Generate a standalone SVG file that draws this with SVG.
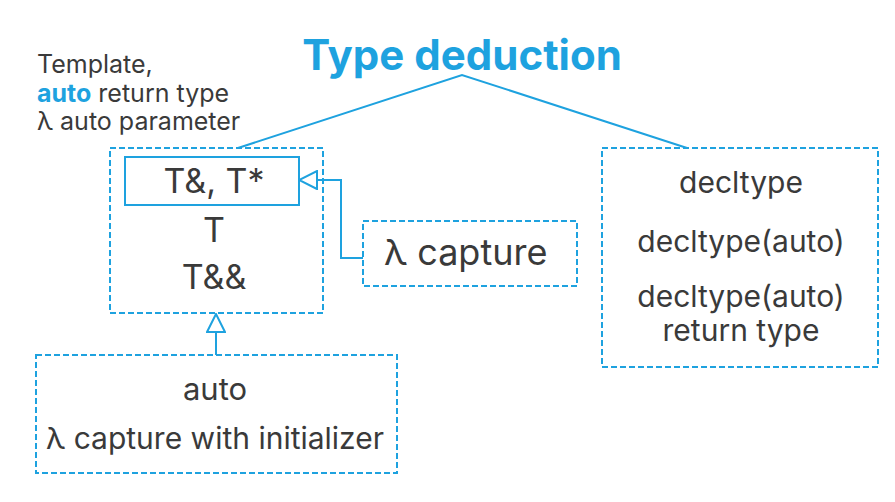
<svg xmlns="http://www.w3.org/2000/svg" width="895" height="502" viewBox="0 0 895 502">
<defs>
<style>
.t{font-family:Inter,"Liberation Sans",sans-serif;fill:#3a3a3a}
.c{text-anchor:middle}
.b{fill:#1ea2df;font-weight:bold}
.dash{fill:none;stroke:#1ea2df;stroke-width:2;stroke-dasharray:6 3}
.ln{fill:none;stroke:#1ea2df;stroke-width:2}
</style>
<marker id="tri" viewBox="0 0 20 20" refX="19" refY="10" markerWidth="20" markerHeight="20" markerUnits="userSpaceOnUse" orient="auto">
<path d="M1,1 L19,10 L1,19 Z" fill="#fff" stroke="#1ea2df" stroke-width="2"/>
</marker>
</defs>
<rect width="895" height="502" fill="#fff"/>
<g id="title">
<text class="t b c" x="462" y="70" font-size="42">Type deduction</text>
</g>
<g id="annotation">
<text class="t" x="37" y="73" font-size="25">Template,</text>
<text class="t" x="37" y="102" font-size="25"><tspan class="b">auto</tspan> return type</text>
<text class="t" x="37" y="130" font-size="25">λ auto parameter</text>
</g>
<g id="connectors">
<polyline class="ln" points="238,148 462,75 687,148"/>
<polyline class="ln" points="363,258 341,258 341,180 299,180" marker-end="url(#tri)"/>
<line class="ln" x1="216" y1="355" x2="216" y2="314" marker-end="url(#tri)"/>
</g>
<g id="forwarding">
<rect class="dash" x="110" y="148" width="213" height="165"/>
<rect class="ln" x="125" y="157" width="174" height="48"/>
<text class="t c" x="214" y="193" font-size="34">T&amp;, T*</text>
<text class="t c" x="214" y="242" font-size="34">T</text>
<text class="t c" x="214" y="289" font-size="34">T&amp;&amp;</text>
</g>
<g id="lambda-capture">
<rect class="dash" x="363" y="221" width="214" height="65"/>
<text class="t" x="384" y="265" font-size="36">λ capture</text>
</g>
<g id="decltype">
<rect class="dash" x="602" y="148" width="276" height="219"/>
<text class="t c" x="741" y="193" font-size="30">decltype</text>
<text class="t c" x="741" y="252" font-size="30">decltype(auto)</text>
<text class="t c" x="741" y="307" font-size="30">decltype(auto)</text>
<text class="t c" x="741" y="341" font-size="30">return type</text>
</g>
<g id="auto">
<rect class="dash" x="36" y="355" width="361" height="118"/>
<text class="t c" x="215" y="400" font-size="31">auto</text>
<text class="t c" x="215" y="449" font-size="30">λ capture with initializer</text>
</g>
</svg>
